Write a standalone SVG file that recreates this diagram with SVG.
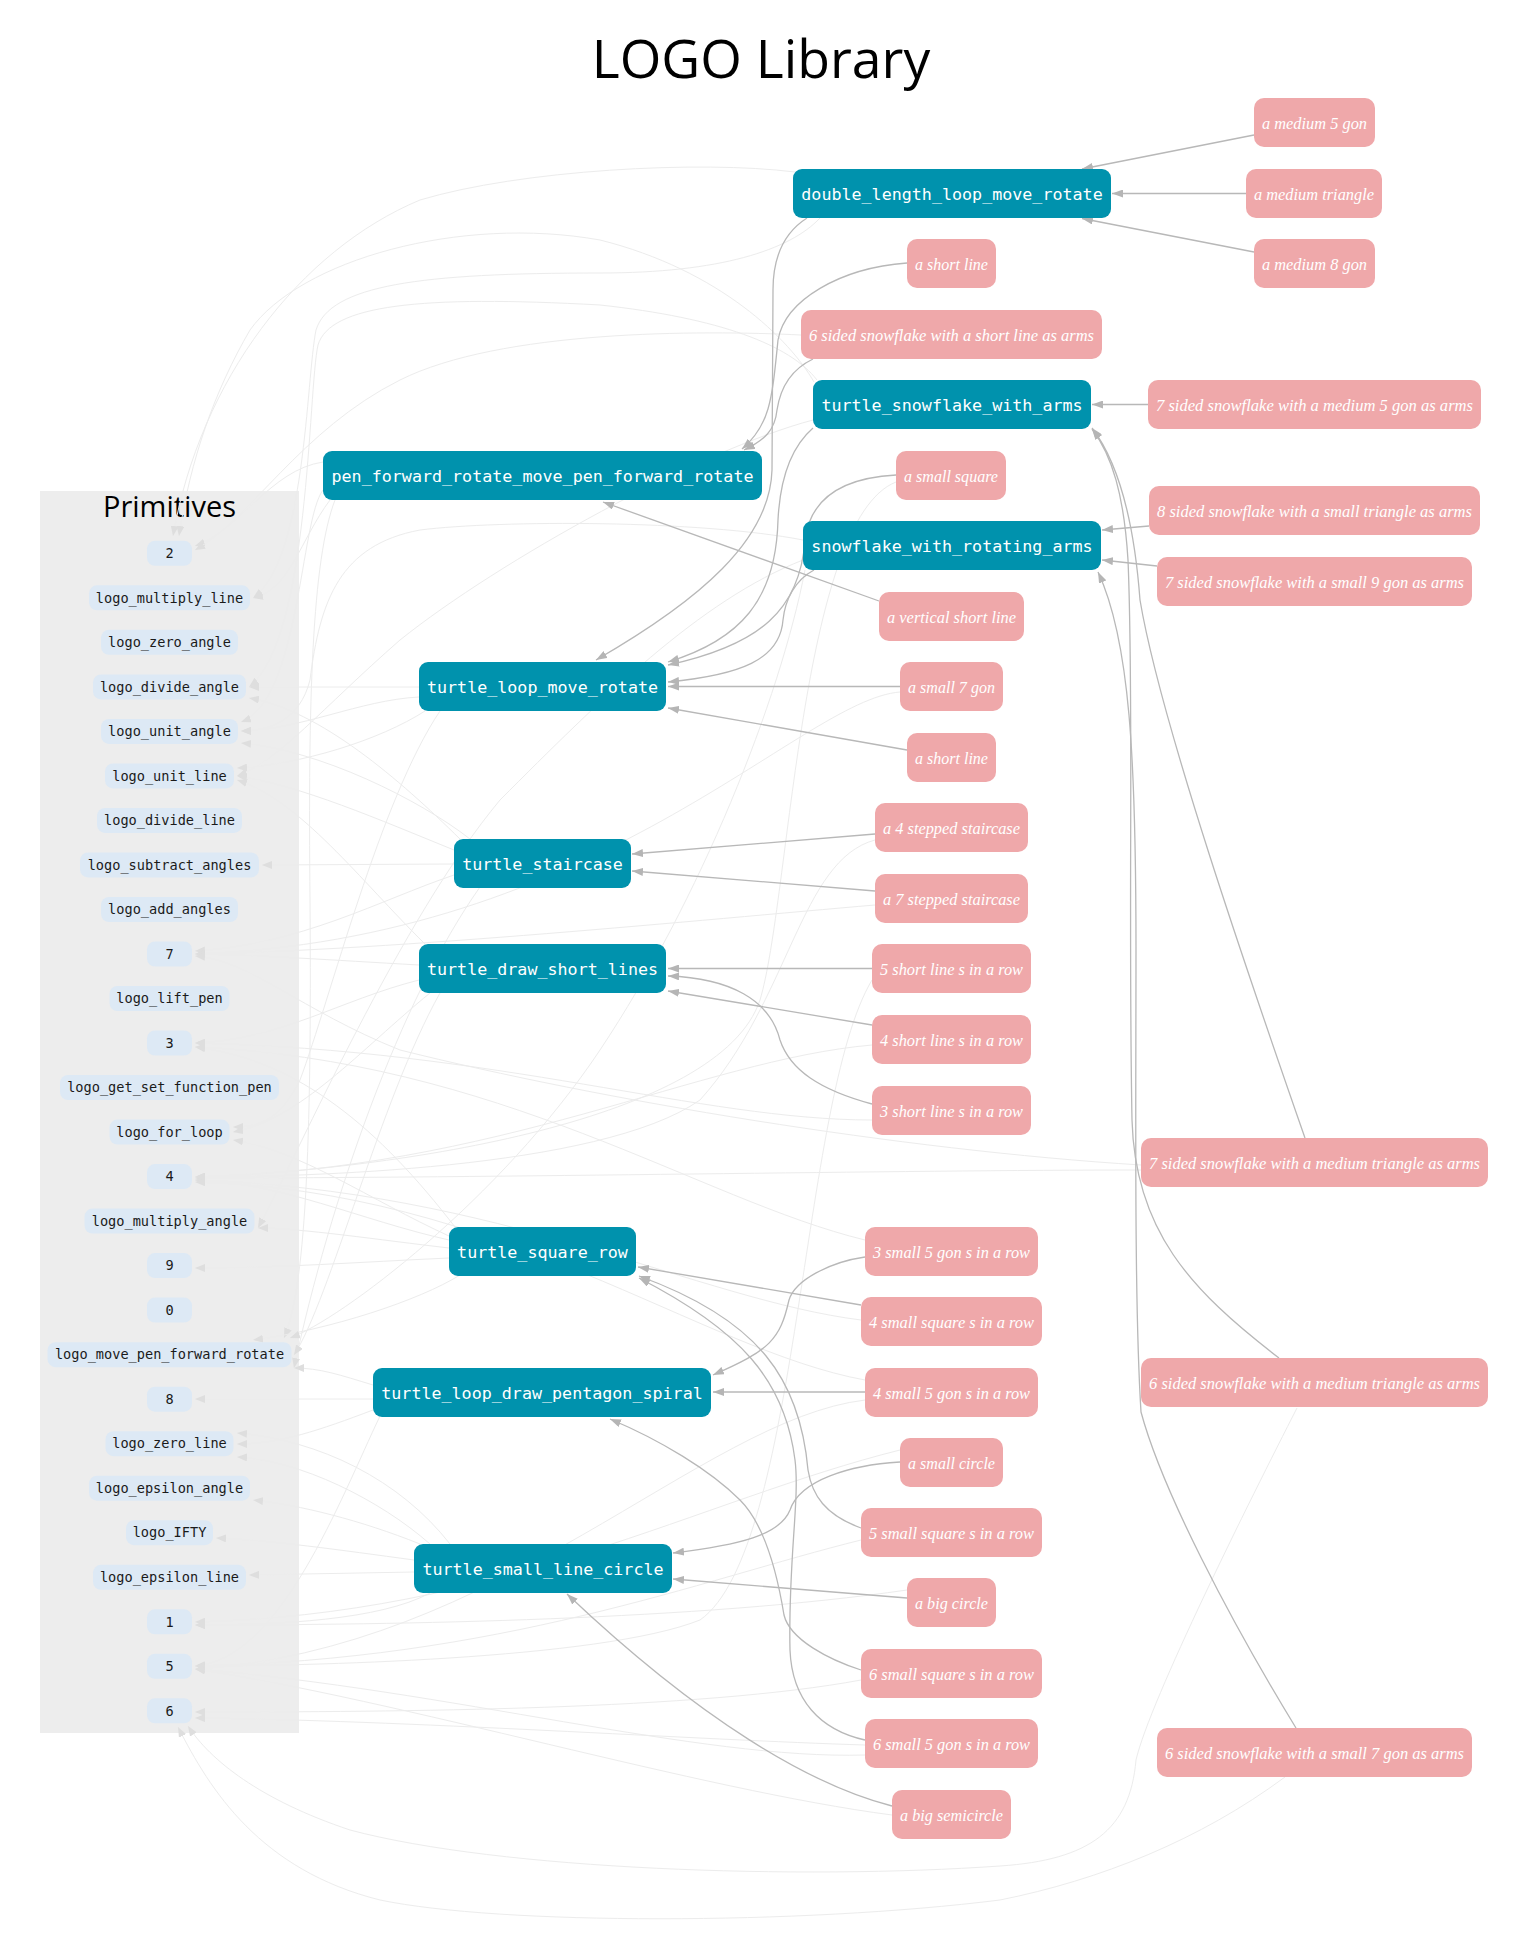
<svg xmlns="http://www.w3.org/2000/svg" width="1522" height="1959" viewBox="0 0 1522 1959">
<style>
.title{font-family:"Open Sans","Noto Sans",sans-serif;fill:#000}
.prim rect{fill:#dde9f5}
.prim text{font-family:"DejaVu Sans Mono","Liberation Mono",monospace;font-size:13.6px;fill:#1a1a1a;text-anchor:middle}
.fn rect{fill:#0092ad}
.fn text{font-family:"DejaVu Sans Mono","Liberation Mono",monospace;font-size:16.7px;fill:#ffffff;text-anchor:middle}
.task rect{fill:#efa8aa}
.task text{font-family:"Liberation Serif","Times New Roman",serif;font-style:italic;font-size:16.3px;fill:#ffffff;text-anchor:middle}
.le{fill:none;stroke:#ececec;stroke-width:1;marker-end:url(#al)}
.de{fill:none;stroke:#b8b8b8;stroke-width:1.3;marker-end:url(#ad)}
</style>
<defs>
<marker id="ad" markerUnits="userSpaceOnUse" markerWidth="11" markerHeight="8" viewBox="0 0 11 8" refX="11" refY="4" orient="auto"><path d="M0,0 L11,4 L0,8 z" fill="#b5b5b5"/></marker>
<marker id="al" markerUnits="userSpaceOnUse" markerWidth="10" markerHeight="8" viewBox="0 0 10 8" refX="10" refY="4" orient="auto"><path d="M0,0 L10,4 L0,8 z" fill="#dedede"/></marker>
</defs>
<rect width="1522" height="1959" fill="#ffffff"/>
<text class="title" x="761" y="78" font-size="53.5" text-anchor="middle">LOGO Library</text>
<g id="cluster_primitives">
<rect x="40" y="491" width="259" height="1242" fill="#ededed"/>
<text class="title" x="169.5" y="517" font-size="29" text-anchor="middle">Primitives</text>
</g>
<g id="connectors">
<path class="le" d="M323 462 C270 470 240 530 195 546"/>
<path class="le" d="M330 500 C300 540 290 590 253 598"/>
<path class="le" d="M335 500 C312 560 308 700 310 900 C312 1150 305 1290 284 1338"/>
<path class="le" d="M323 490 C300 520 300 700 241 722"/>
<path class="le" d="M419 687 L249 687"/>
<path class="le" d="M419 697 C360 700 300 730 241 731"/>
<path class="le" d="M425 711 C380 740 300 765 237 768"/>
<path class="le" d="M440 711 C380 800 330 1000 300 1080 C280 1120 260 1127 233 1127"/>
<path class="le" d="M454 864 L262 865"/>
<path class="le" d="M460 839 C400 780 320 710 249 698"/>
<path class="le" d="M470 839 C420 800 320 750 241 743"/>
<path class="le" d="M454 850 C380 820 300 785 237 776"/>
<path class="le" d="M454 875 C380 900 300 945 195 951"/>
<path class="le" d="M480 887 C400 1000 330 1200 294 1368"/>
<path class="le" d="M419 965 C330 960 260 955 195 954"/>
<path class="le" d="M425 944 C360 880 300 800 237 780"/>
<path class="le" d="M419 980 C340 1000 280 1040 195 1043"/>
<path class="le" d="M430 993 C360 1050 300 1120 233 1132"/>
<path class="le" d="M440 993 C380 1100 330 1300 294 1355"/>
<path class="le" d="M449 1240 C360 1220 280 1182 195 1180"/>
<path class="le" d="M449 1258 C360 1262 280 1268 195 1268"/>
<path class="le" d="M449 1236 C370 1200 300 1150 233 1140"/>
<path class="le" d="M455 1227 C380 1130 300 1060 195 1047"/>
<path class="le" d="M449 1248 C380 1240 300 1228 258 1228"/>
<path class="le" d="M460 1275 C420 1300 330 1330 253 1340"/>
<path class="le" d="M373 1399 L195 1399"/>
<path class="le" d="M373 1385 C340 1375 320 1368 294 1368"/>
<path class="le" d="M373 1410 C320 1430 280 1444 237 1444"/>
<path class="le" d="M380 1416 C340 1500 280 1660 195 1666"/>
<path class="le" d="M414 1572 L249 1575"/>
<path class="le" d="M414 1560 C340 1550 270 1540 216 1538"/>
<path class="le" d="M420 1544 C360 1520 300 1505 253 1500"/>
<path class="le" d="M430 1544 C380 1500 300 1460 237 1457"/>
<path class="le" d="M430 1593 C380 1620 280 1625 195 1625"/>
<path class="le" d="M450 1544 C400 1480 320 1440 237 1433"/>
<path class="le" d="M795 172 C700 160 520 170 420 200 C300 250 200 380 173 536"/>
<path class="le" d="M814 382 C790 340 720 270 600 240 C460 215 300 260 250 330 C215 390 190 460 179 536"/>
<path class="le" d="M820 218 C790 250 720 273 600 273 C420 273 330 285 316 330 C306 380 306 560 253 598"/>
<path class="le" d="M817 380 C790 345 720 318 600 305 C420 295 330 305 318 345 C308 390 310 640 249 687"/>
<path class="le" d="M803 540 C700 520 500 520 420 530 C340 545 320 600 310 680 C300 720 270 731 241 731"/>
<path class="le" d="M803 560 C700 600 600 700 500 800 C400 920 300 1150 258 1228"/>
<path class="le" d="M805 570 C780 700 700 900 600 1050 C500 1200 340 1320 290 1338"/>
<path class="le" d="M813 420 C700 450 500 560 400 640 C320 710 280 760 237 776"/>
<path class="le" d="M801 335 C700 330 500 330 400 380 C300 430 250 520 195 550"/>
<path class="le" d="M896 482 C800 520 790 900 760 1000 C720 1120 400 1170 195 1177"/>
<path class="le" d="M900 692 C800 700 600 940 195 954"/>
<path class="le" d="M875 840 C800 860 790 1000 700 1100 C600 1170 300 1177 195 1177"/>
<path class="le" d="M875 905 C700 920 400 950 195 954"/>
<path class="le" d="M872 980 C800 1100 800 1550 700 1620 C600 1660 300 1666 195 1666"/>
<path class="le" d="M872 1045 C700 1060 500 1170 195 1177"/>
<path class="le" d="M872 1120 C700 1120 500 1050 195 1043"/>
<path class="le" d="M1141 1170 C900 1170 500 1178 195 1178"/>
<path class="le" d="M1141 1165 C900 1150 600 1100 400 1050 C300 1010 250 960 195 956"/>
<path class="le" d="M865 1240 C700 1200 500 1060 195 1047"/>
<path class="le" d="M861 1320 C700 1300 500 1190 195 1180"/>
<path class="le" d="M865 1400 C700 1420 500 1650 195 1669"/>
<path class="le" d="M865 1380 C700 1350 500 1190 195 1182"/>
<path class="le" d="M1297 1408 C1250 1500 1150 1700 1136 1760 C1130 1830 1090 1860 1000 1866 C800 1880 500 1870 350 1830 C260 1800 210 1760 188 1726"/>
<path class="le" d="M1285 1777 C1200 1840 1100 1880 1000 1900 C800 1925 500 1925 380 1900 C260 1870 210 1790 178 1727"/>
<path class="le" d="M900 1450 C700 1500 500 1615 195 1622"/>
<path class="le" d="M907 1590 C700 1620 400 1625 195 1625"/>
<path class="le" d="M861 1540 C700 1580 500 1660 195 1666"/>
<path class="le" d="M861 1680 C700 1710 400 1712 195 1712"/>
<path class="le" d="M865 1745 C700 1740 400 1720 195 1718"/>
<path class="le" d="M865 1755 C700 1760 450 1690 195 1669"/>
<path class="le" d="M892 1815 C700 1790 400 1700 195 1669"/>
<path class="de" d="M1254 135 L1082 169"/>
<path class="de" d="M1246 193.5 L1112 193.5"/>
<path class="de" d="M1254 252 L1082 218.5"/>
<path class="de" d="M1148 404.5 L1092 404.5"/>
<path class="de" d="M1305 1138 C1250 980 1160 720 1140 600 C1134 520 1118 462 1092 428"/>
<path class="de" d="M1279 1358 C1190 1290 1135 1230 1132 1120 C1128 900 1134 700 1128 560 C1124 495 1112 455 1092 429"/>
<path class="de" d="M1296 1728 C1230 1620 1162 1490 1141 1412 C1134 1300 1136 1100 1136 950 C1136 760 1130 640 1098 572"/>
<path class="de" d="M1149 526 L1102 530"/>
<path class="de" d="M1157 566 L1102 560"/>
<path class="de" d="M807 218 C785 232 773 255 773 290 L772 470 C770 540 700 600 596 660"/>
<path class="de" d="M813 428 C790 448 780 480 778 520 C776 600 740 640 668 662"/>
<path class="de" d="M896 475 C840 478 810 500 805 540 C800 610 760 645 668 665"/>
<path class="de" d="M814 570 C795 580 785 600 783 620 C780 660 740 675 668 682"/>
<path class="de" d="M900 686.5 L668 686.5"/>
<path class="de" d="M907 750 L668 708"/>
<path class="de" d="M907 263 C840 268 785 300 778 340 C772 400 770 425 742 449"/>
<path class="de" d="M813 359 C790 370 780 390 777 410 C775 430 765 440 744 450"/>
<path class="de" d="M879 601 L603 502"/>
<path class="de" d="M875 834 L632 854"/>
<path class="de" d="M875 891 L632 871"/>
<path class="de" d="M872 968.5 L668 968.5"/>
<path class="de" d="M872 1025 L668 991"/>
<path class="de" d="M872 1104 C820 1090 790 1070 780 1040 C770 1000 730 978 668 976"/>
<path class="de" d="M861 1305 L638 1267"/>
<path class="de" d="M861 1528 C825 1515 812 1495 808 1470 C800 1380 760 1320 639 1276"/>
<path class="de" d="M865 1740 C820 1730 792 1700 790 1650 C788 1560 800 1500 795 1460 C785 1380 740 1330 639 1278"/>
<path class="de" d="M861 1670 C830 1660 790 1640 784 1615 C775 1560 760 1520 740 1500 C710 1470 660 1440 610 1419"/>
<path class="de" d="M865 1257 C830 1262 795 1280 789 1300 C780 1340 770 1350 713 1375"/>
<path class="de" d="M865 1392 L713 1392"/>
<path class="de" d="M900 1462 C850 1465 800 1480 790 1510 C780 1535 740 1545 673 1553"/>
<path class="de" d="M907 1598 L673 1579"/>
<path class="de" d="M892 1806 C810 1785 700 1720 567 1594"/>
</g>
<g id="n_2" class="prim"><rect x="147" y="540.8" width="45" height="25" rx="8"/><text x="169.5" y="558">2</text></g>
<g id="n_logo_multiply_line" class="prim"><rect x="89" y="585.3" width="161" height="25" rx="8"/><text x="169.5" y="602.5">logo_multiply_line</text></g>
<g id="n_logo_zero_angle" class="prim"><rect x="101" y="629.8" width="137" height="25" rx="8"/><text x="169.5" y="647">logo_zero_angle</text></g>
<g id="n_logo_divide_angle" class="prim"><rect x="93" y="674.4" width="153" height="25" rx="8"/><text x="169.5" y="691.6">logo_divide_angle</text></g>
<g id="n_logo_unit_angle" class="prim"><rect x="101" y="718.9" width="137" height="25" rx="8"/><text x="169.5" y="736.1">logo_unit_angle</text></g>
<g id="n_logo_unit_line" class="prim"><rect x="105" y="763.4" width="129" height="25" rx="8"/><text x="169.5" y="780.6">logo_unit_line</text></g>
<g id="n_logo_divide_line" class="prim"><rect x="97" y="807.9" width="145" height="25" rx="8"/><text x="169.5" y="825.1">logo_divide_line</text></g>
<g id="n_logo_subtract_angles" class="prim"><rect x="80" y="852.4" width="179" height="25" rx="8"/><text x="169.5" y="869.6">logo_subtract_angles</text></g>
<g id="n_logo_add_angles" class="prim"><rect x="101" y="897" width="137" height="25" rx="8"/><text x="169.5" y="914.2">logo_add_angles</text></g>
<g id="n_7" class="prim"><rect x="147" y="941.5" width="45" height="25" rx="8"/><text x="169.5" y="958.7">7</text></g>
<g id="n_logo_lift_pen" class="prim"><rect x="109.5" y="986" width="120" height="25" rx="8"/><text x="169.5" y="1003.2">logo_lift_pen</text></g>
<g id="n_3" class="prim"><rect x="147" y="1030.5" width="45" height="25" rx="8"/><text x="169.5" y="1047.7">3</text></g>
<g id="n_logo_get_set_function_pen" class="prim"><rect x="60" y="1075" width="219" height="25" rx="8"/><text x="169.5" y="1092.2">logo_get_set_function_pen</text></g>
<g id="n_logo_for_loop" class="prim"><rect x="109.5" y="1119.6" width="120" height="25" rx="8"/><text x="169.5" y="1136.8">logo_for_loop</text></g>
<g id="n_4" class="prim"><rect x="147" y="1164.1" width="45" height="25" rx="8"/><text x="169.5" y="1181.3">4</text></g>
<g id="n_logo_multiply_angle" class="prim"><rect x="84.5" y="1208.6" width="170" height="25" rx="8"/><text x="169.5" y="1225.8">logo_multiply_angle</text></g>
<g id="n_9" class="prim"><rect x="147" y="1253.1" width="45" height="25" rx="8"/><text x="169.5" y="1270.3">9</text></g>
<g id="n_0" class="prim"><rect x="147" y="1297.6" width="45" height="25" rx="8"/><text x="169.5" y="1314.8">0</text></g>
<g id="n_logo_move_pen_forward_rotate" class="prim"><rect x="47.5" y="1342.2" width="244" height="25" rx="8"/><text x="169.5" y="1359.4">logo_move_pen_forward_rotate</text></g>
<g id="n_8" class="prim"><rect x="147" y="1386.7" width="45" height="25" rx="8"/><text x="169.5" y="1403.9">8</text></g>
<g id="n_logo_zero_line" class="prim"><rect x="105.5" y="1431.2" width="128" height="25" rx="8"/><text x="169.5" y="1448.4">logo_zero_line</text></g>
<g id="n_logo_epsilon_angle" class="prim"><rect x="89" y="1475.7" width="161" height="25" rx="8"/><text x="169.5" y="1492.9">logo_epsilon_angle</text></g>
<g id="n_logo_IFTY" class="prim"><rect x="126" y="1520.2" width="87" height="25" rx="8"/><text x="169.5" y="1537.4">logo_IFTY</text></g>
<g id="n_logo_epsilon_line" class="prim"><rect x="93" y="1564.8" width="153" height="25" rx="8"/><text x="169.5" y="1582">logo_epsilon_line</text></g>
<g id="n_1" class="prim"><rect x="147" y="1609.3" width="45" height="25" rx="8"/><text x="169.5" y="1626.5">1</text></g>
<g id="n_5" class="prim"><rect x="147" y="1653.8" width="45" height="25" rx="8"/><text x="169.5" y="1671">5</text></g>
<g id="n_6" class="prim"><rect x="147" y="1698.3" width="45" height="25" rx="8"/><text x="169.5" y="1715.5">6</text></g>
<g id="f_double_length_loop_move_rotate" class="fn"><rect x="793" y="169" width="318" height="49" rx="9"/><text x="952" y="199.5">double_length_loop_move_rotate</text></g>
<g id="f_pen_forward_rotate_move_pen_forward_rotate" class="fn"><rect x="323" y="451" width="439" height="49" rx="9"/><text x="542.5" y="481.5">pen_forward_rotate_move_pen_forward_rotate</text></g>
<g id="f_turtle_snowflake_with_arms" class="fn"><rect x="813" y="380" width="278" height="49" rx="9"/><text x="952" y="410.5">turtle_snowflake_with_arms</text></g>
<g id="f_snowflake_with_rotating_arms" class="fn"><rect x="803" y="521" width="298" height="49" rx="9"/><text x="952" y="551.5">snowflake_with_rotating_arms</text></g>
<g id="f_turtle_loop_move_rotate" class="fn"><rect x="419" y="662" width="247" height="49" rx="9"/><text x="542.5" y="692.5">turtle_loop_move_rotate</text></g>
<g id="f_turtle_staircase" class="fn"><rect x="454" y="839" width="177" height="49" rx="9"/><text x="542.5" y="869.5">turtle_staircase</text></g>
<g id="f_turtle_draw_short_lines" class="fn"><rect x="419" y="944" width="247" height="49" rx="9"/><text x="542.5" y="974.5">turtle_draw_short_lines</text></g>
<g id="f_turtle_square_row" class="fn"><rect x="449" y="1227" width="187" height="49" rx="9"/><text x="542.5" y="1257.5">turtle_square_row</text></g>
<g id="f_turtle_loop_draw_pentagon_spiral" class="fn"><rect x="373" y="1368" width="338" height="49" rx="9"/><text x="542" y="1398.5">turtle_loop_draw_pentagon_spiral</text></g>
<g id="f_turtle_small_line_circle" class="fn"><rect x="414" y="1544" width="258" height="49" rx="9"/><text x="543" y="1574.5">turtle_small_line_circle</text></g>
<g id="t_medium_5_gon" class="task"><rect x="1254" y="98" width="121" height="49" rx="10"/><text x="1314.5" y="128.5" textLength="105" lengthAdjust="spacingAndGlyphs">a medium 5 gon</text></g>
<g id="t_medium_triangle" class="task"><rect x="1246" y="169" width="136" height="49" rx="10"/><text x="1314" y="199.5" textLength="120" lengthAdjust="spacingAndGlyphs">a medium triangle</text></g>
<g id="t_medium_8_gon" class="task"><rect x="1254" y="239" width="121" height="49" rx="10"/><text x="1314.5" y="269.5" textLength="105" lengthAdjust="spacingAndGlyphs">a medium 8 gon</text></g>
<g id="t_short_line_1" class="task"><rect x="907" y="239" width="89" height="49" rx="10"/><text x="951.5" y="269.5" textLength="73" lengthAdjust="spacingAndGlyphs">a short line</text></g>
<g id="t_6_snowflake_short_line" class="task"><rect x="801" y="310" width="301" height="49" rx="10"/><text x="951.5" y="340.5" textLength="285" lengthAdjust="spacingAndGlyphs">6 sided snowflake with a short line as arms</text></g>
<g id="t_7_snowflake_medium_5_gon" class="task"><rect x="1148" y="380" width="333" height="49" rx="10"/><text x="1314.5" y="410.5" textLength="317" lengthAdjust="spacingAndGlyphs">7 sided snowflake with a medium 5 gon as arms</text></g>
<g id="t_small_square" class="task"><rect x="896" y="451" width="110" height="49" rx="10"/><text x="951" y="481.5" textLength="94" lengthAdjust="spacingAndGlyphs">a small square</text></g>
<g id="t_8_snowflake_small_triangle" class="task"><rect x="1149" y="486" width="331" height="49" rx="10"/><text x="1314.5" y="516.5" textLength="315" lengthAdjust="spacingAndGlyphs">8 sided snowflake with a small triangle as arms</text></g>
<g id="t_7_snowflake_small_9_gon" class="task"><rect x="1157" y="557" width="315" height="49" rx="10"/><text x="1314.5" y="587.5" textLength="299" lengthAdjust="spacingAndGlyphs">7 sided snowflake with a small 9 gon as arms</text></g>
<g id="t_vertical_short_line" class="task"><rect x="879" y="592" width="145" height="49" rx="10"/><text x="951.5" y="622.5" textLength="129" lengthAdjust="spacingAndGlyphs">a vertical short line</text></g>
<g id="t_small_7_gon" class="task"><rect x="900" y="662" width="103" height="49" rx="10"/><text x="951.5" y="692.5" textLength="87" lengthAdjust="spacingAndGlyphs">a small 7 gon</text></g>
<g id="t_short_line_2" class="task"><rect x="907" y="733" width="89" height="49" rx="10"/><text x="951.5" y="763.5" textLength="73" lengthAdjust="spacingAndGlyphs">a short line</text></g>
<g id="t_4_stepped_staircase" class="task"><rect x="875" y="803" width="153" height="49" rx="10"/><text x="951.5" y="833.5" textLength="137" lengthAdjust="spacingAndGlyphs">a 4 stepped staircase</text></g>
<g id="t_7_stepped_staircase" class="task"><rect x="875" y="874" width="153" height="49" rx="10"/><text x="951.5" y="904.5" textLength="137" lengthAdjust="spacingAndGlyphs">a 7 stepped staircase</text></g>
<g id="t_5_short_lines" class="task"><rect x="872" y="944" width="159" height="49" rx="10"/><text x="951.5" y="974.5" textLength="143" lengthAdjust="spacingAndGlyphs">5 short line s in a row</text></g>
<g id="t_4_short_lines" class="task"><rect x="872" y="1015" width="159" height="49" rx="10"/><text x="951.5" y="1045.5" textLength="143" lengthAdjust="spacingAndGlyphs">4 short line s in a row</text></g>
<g id="t_3_short_lines" class="task"><rect x="872" y="1086" width="159" height="49" rx="10"/><text x="951.5" y="1116.5" textLength="143" lengthAdjust="spacingAndGlyphs">3 short line s in a row</text></g>
<g id="t_7_snowflake_medium_triangle" class="task"><rect x="1141" y="1138" width="347" height="49" rx="10"/><text x="1314.5" y="1168.5" textLength="331" lengthAdjust="spacingAndGlyphs">7 sided snowflake with a medium triangle as arms</text></g>
<g id="t_3_small_5_gons" class="task"><rect x="865" y="1227" width="173" height="49" rx="10"/><text x="951.5" y="1257.5" textLength="157" lengthAdjust="spacingAndGlyphs">3 small 5 gon s in a row</text></g>
<g id="t_4_small_squares" class="task"><rect x="861" y="1297" width="181" height="49" rx="10"/><text x="951.5" y="1327.5" textLength="165" lengthAdjust="spacingAndGlyphs">4 small square s in a row</text></g>
<g id="t_4_small_5_gons" class="task"><rect x="865" y="1368" width="173" height="49" rx="10"/><text x="951.5" y="1398.5" textLength="157" lengthAdjust="spacingAndGlyphs">4 small 5 gon s in a row</text></g>
<g id="t_6_snowflake_medium_triangle" class="task"><rect x="1141" y="1358" width="347" height="49" rx="10"/><text x="1314.5" y="1388.5" textLength="331" lengthAdjust="spacingAndGlyphs">6 sided snowflake with a medium triangle as arms</text></g>
<g id="t_small_circle" class="task"><rect x="900" y="1438" width="103" height="49" rx="10"/><text x="951.5" y="1468.5" textLength="87" lengthAdjust="spacingAndGlyphs">a small circle</text></g>
<g id="t_5_small_squares" class="task"><rect x="861" y="1508" width="181" height="49" rx="10"/><text x="951.5" y="1538.5" textLength="165" lengthAdjust="spacingAndGlyphs">5 small square s in a row</text></g>
<g id="t_big_circle" class="task"><rect x="907" y="1578" width="89" height="49" rx="10"/><text x="951.5" y="1608.5" textLength="73" lengthAdjust="spacingAndGlyphs">a big circle</text></g>
<g id="t_6_small_squares" class="task"><rect x="861" y="1649" width="181" height="49" rx="10"/><text x="951.5" y="1679.5" textLength="165" lengthAdjust="spacingAndGlyphs">6 small square s in a row</text></g>
<g id="t_6_small_5_gons" class="task"><rect x="865" y="1719" width="173" height="49" rx="10"/><text x="951.5" y="1749.5" textLength="157" lengthAdjust="spacingAndGlyphs">6 small 5 gon s in a row</text></g>
<g id="t_6_snowflake_small_7_gon" class="task"><rect x="1157" y="1728" width="315" height="49" rx="10"/><text x="1314.5" y="1758.5" textLength="299" lengthAdjust="spacingAndGlyphs">6 sided snowflake with a small 7 gon as arms</text></g>
<g id="t_big_semicircle" class="task"><rect x="892" y="1790" width="119" height="49" rx="10"/><text x="951.5" y="1820.5" textLength="103" lengthAdjust="spacingAndGlyphs">a big semicircle</text></g>
</svg>
